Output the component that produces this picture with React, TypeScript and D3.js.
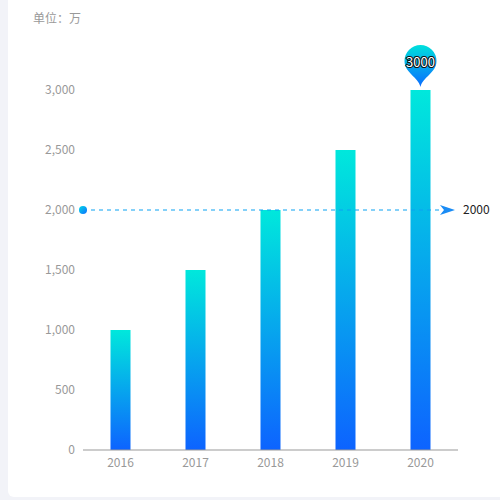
import { useMemo } from "react";
import * as d3 from "d3";

const years = ["2016", "2017", "2018", "2019", "2020"];
const values = [1000, 1500, 2000, 2500, 3000];
const yTicks = [0, 500, 1000, 1500, 2000, 2500, 3000];
const unitLabel = "单位：万";

const W = 500;
const H = 500;
const margin = { top: 90, right: 42, bottom: 50, left: 83 };
const FONT = "'Microsoft YaHei', 'Noto Sans CJK SC', 'Noto Sans', sans-serif";

export default function App() {
  const x = useMemo(
    () => d3.scaleBand<string>().domain(years).range([margin.left, W - margin.right]),
    []
  );
  const y = useMemo(
    () => d3.scaleLinear().domain([0, 3000]).range([H - margin.bottom, margin.top]),
    []
  );

  const avg = d3.mean(values) ?? 0;
  const maxVal = d3.max(values) ?? 0;
  const maxIdx = values.indexOf(maxVal);
  const fmt = d3.format(",");
  const barW = 20;

  // pin shape for the max mark point
  const pinX = (x(years[maxIdx]) ?? 0) + x.bandwidth() / 2;
  const tipY = y(maxVal) - 3;
  const r = 16;
  const cy = tipY - 26;
  const pinPath = `M${pinX},${tipY} C${pinX - 2},${tipY - 10} ${pinX - r},${cy + r * 0.75} ${pinX - r},${cy} A${r},${r} 0 1 1 ${pinX + r},${cy} C${pinX + r},${cy + r * 0.75} ${pinX + 2},${tipY - 10} ${pinX},${tipY} Z`;

  const avgY = y(avg);
  const lineStart = margin.left;
  const lineEnd = W - margin.right - 3;

  return (
    <div>
      <style>{`body{margin:0;background:#f2f3f8}`}</style>
      <svg width={W} height={H} style={{ display: "block", fontFamily: FONT }}>
        <defs>
          <linearGradient id="barGrad" x1="0" y1="0" x2="0" y2="1">
            <stop offset="0%" stopColor="#00e8dc" />
            <stop offset="100%" stopColor="#0d63ff" />
          </linearGradient>
          <linearGradient id="pinGrad" x1="0" y1="0" x2="0" y2="1">
            <stop offset="0%" stopColor="#00e0dc" />
            <stop offset="100%" stopColor="#0a6cff" />
          </linearGradient>
          <linearGradient id="dotGrad" x1="0" y1="0" x2="1" y2="1">
            <stop offset="0%" stopColor="#00d8e6" />
            <stop offset="100%" stopColor="#1070ff" />
          </linearGradient>
        </defs>
        <rect x={0} y={0} width={W} height={H} fill="#f2f3f8" />
        <rect x={8} y={-10} width={W} height={507} rx={6} fill="#ffffff" />

        <text x={33} y={23} fontSize={12} fill="#999">
          {unitLabel}
        </text>

        {yTicks.map((t) => (
          <text
            key={t}
            x={margin.left - 8}
            y={y(t)}
            dy="0.35em"
            textAnchor="end"
            fontSize={12}
            fill="#999"
          >
            {fmt(t)}
          </text>
        ))}

        {years.map((yr, i) => (
          <rect
            key={yr}
            x={(x(yr) ?? 0) + x.bandwidth() / 2 - barW / 2}
            y={y(values[i])}
            width={barW}
            height={y(0) - y(values[i])}
            fill="url(#barGrad)"
          />
        ))}

        <line
          x1={margin.left}
          x2={W - margin.right}
          y1={y(0)}
          y2={y(0)}
          stroke="#999"
          strokeWidth={1}
        />
        {years.map((yr) => (
          <text
            key={yr}
            x={(x(yr) ?? 0) + x.bandwidth() / 2}
            y={y(0) + 17}
            textAnchor="middle"
            fontSize={12}
            fill="#999"
          >
            {yr}
          </text>
        ))}

        {/* average mark line */}
        <line
          x1={lineStart}
          x2={lineEnd - 12}
          y1={avgY}
          y2={avgY}
          stroke="#0aa2f2"
          strokeWidth={1}
          strokeDasharray="4 4"
        />
        <circle cx={lineStart} cy={avgY} r={4} fill="url(#dotGrad)" />
        <path
          d={`M${lineEnd},${avgY} L${lineEnd - 15},${avgY - 5} L${lineEnd - 11},${avgY} L${lineEnd - 15},${avgY + 5} Z`}
          fill="#1a8cf5"
        />
        <text x={lineEnd + 8} y={avgY} dy="0.35em" fontSize={12} fill="#222">
          {avg}
        </text>

        {/* max mark point */}
        <path d={pinPath} fill="url(#pinGrad)" />
        <text
          x={pinX}
          y={cy + 1}
          dy="0.35em"
          textAnchor="middle"
          fontSize={13}
          fill="#fff"
          stroke="#111"
          strokeWidth={2}
          paintOrder="stroke"
        >
          {maxVal}
        </text>
      </svg>
    </div>
  );
}
